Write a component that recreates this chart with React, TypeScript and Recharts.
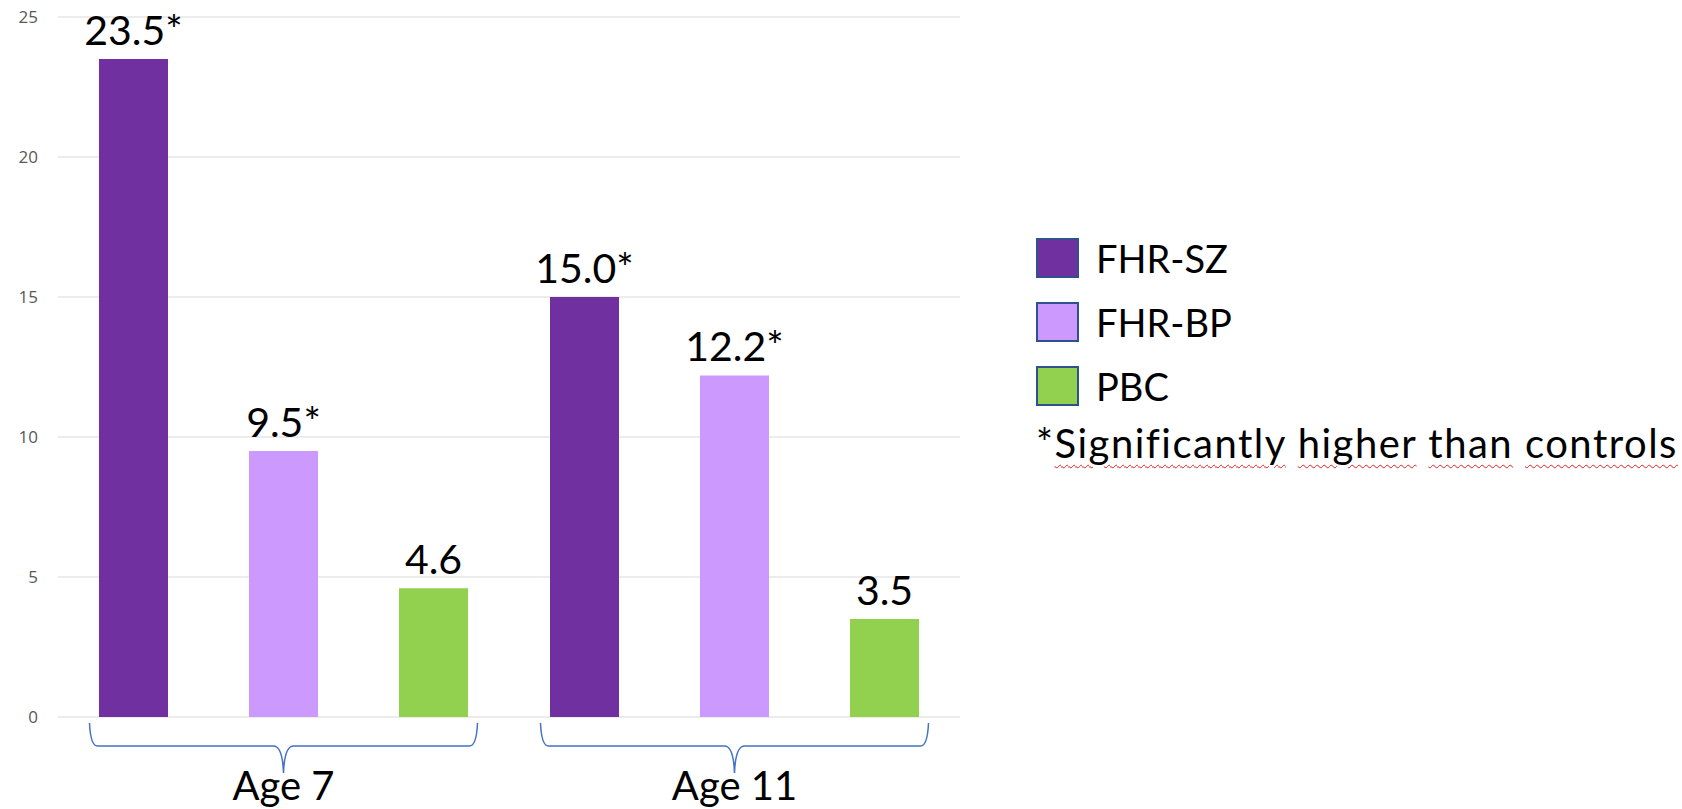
import React from "react";
import {
  BarChart,
  Bar,
  XAxis,
  YAxis,
  CartesianGrid,
  Legend,
  LabelList,
} from "recharts";

const categories = ["Age 7", "Age 11"];
const szValues = [23.5, 15.0];
const bpValues = [9.5, 12.2];
const pbcValues = [4.6, 3.5];
// which values were significantly higher than controls
const szSig = [true, true];
const bpSig = [true, true];
const pbcSig = [false, false];
const yTicks = [0, 5, 10, 15, 20, 25];

const series = [
  { key: "sz", name: "FHR-SZ", color: "#7030A0" },
  { key: "bp", name: "FHR-BP", color: "#CC99FF" },
  { key: "pbc", name: "PBC", color: "#92D050" },
];
const footnote = ["Significantly", "higher", "than", "controls"];

const fmt = (v: number, sig: boolean) => v.toFixed(1) + (sig ? "*" : "");

const data = categories.map((c, i) => ({
  category: c,
  sz: szValues[i],
  bp: bpValues[i],
  pbc: pbcValues[i],
  szLabel: fmt(szValues[i], szSig[i]),
  bpLabel: fmt(bpValues[i], bpSig[i]),
  pbcLabel: fmt(pbcValues[i], pbcSig[i]),
}));

const FONT = "Lato, 'Open Sans', sans-serif";

// brace under each group plus the group name
const BraceTick = (props: any) => {
  const { x, y, payload } = props;
  const w = 194;
  const d = `M ${x - w} ${y + 6} Q ${x - w + 1} ${y + 29} ${x - w + 8} ${y + 29}
    L ${x - 10} ${y + 29} Q ${x - 1} ${y + 29} ${x} ${y + 56}
    Q ${x + 1} ${y + 29} ${x + 10} ${y + 29}
    L ${x + w - 8} ${y + 29} Q ${x + w - 1} ${y + 29} ${x + w} ${y + 6}`;
  return (
    <g>
      <path d={d} fill="none" stroke="#4472C4" strokeWidth={1.5} />
      <text
        x={x}
        y={y + 83}
        textAnchor="middle"
        fontFamily={FONT}
        fontSize={40}
        fill="#000"
      >
        {payload.value}
      </text>
    </g>
  );
};

const renderLegend = () => (
  <div style={{ fontFamily: FONT, color: "#000" }}>
    <div style={{ display: "flex", flexDirection: "column", gap: 24 }}>
      {series.map((s) => (
        <div
          key={s.key}
          style={{ display: "flex", alignItems: "center", height: 40 }}
        >
          <div
            style={{
              width: 39,
              height: 36,
              background: s.color,
              border: "2px solid #2F528F",
            }}
          />
          <span style={{ fontSize: 38, marginLeft: 17 }}>{s.name}</span>
        </div>
      ))}
    </div>
    <div
      style={{
        fontSize: 40,
        lineHeight: 1.2,
        marginTop: 13,
        letterSpacing: 1.5,
        whiteSpace: "nowrap",
      }}
    >
      *
      {footnote.map((w, i) => (
        <React.Fragment key={w}>
          {i > 0 ? " " : ""}
          <span
            style={{
              textDecoration: "underline wavy #e02020",
              textDecorationThickness: 1,
              textUnderlineOffset: 6,
            }}
          >
            {w}
          </span>
        </React.Fragment>
      ))}
    </div>
  </div>
);

export default function App() {
  return (
    <div style={{ position: "absolute", left: 0, top: 0, background: "#fff" }}>
      <BarChart
        width={1682}
        height={809}
        data={data}
        margin={{ top: 17, right: 722, bottom: 0, left: 0 }}
        barSize={69}
        barGap={81}
      >
        <CartesianGrid vertical={false} stroke="#d9d9d9" strokeWidth={1} />
        <XAxis
          dataKey="category"
          axisLine={false}
          tickLine={false}
          tickSize={0}
          tickMargin={0}
          height={92}
          interval={0}
          tick={<BraceTick />}
        />
        <YAxis
          domain={[0, 25]}
          ticks={yTicks}
          width={58}
          axisLine={false}
          tickLine={false}
          tickSize={0}
          tickMargin={20}
          tick={{ fill: "#595959", fontSize: 17, fontFamily: "'Open Sans', sans-serif" }}
        />
        <Legend
          layout="vertical"
          align="center"
          verticalAlign="middle"
          content={renderLegend}
          wrapperStyle={{ left: 1036, top: 238, width: 646 }}
        />
        {series.map((s) => (
          <Bar
            key={s.key}
            dataKey={s.key}
            name={s.name}
            fill={s.color}
            isAnimationActive={false}
          >
            <LabelList
              dataKey={s.key + "Label"}
              position="top"
              offset={14}
              fill="#000"
              fontSize={41}
              fontFamily={FONT}
            />
          </Bar>
        ))}
      </BarChart>
    </div>
  );
}
